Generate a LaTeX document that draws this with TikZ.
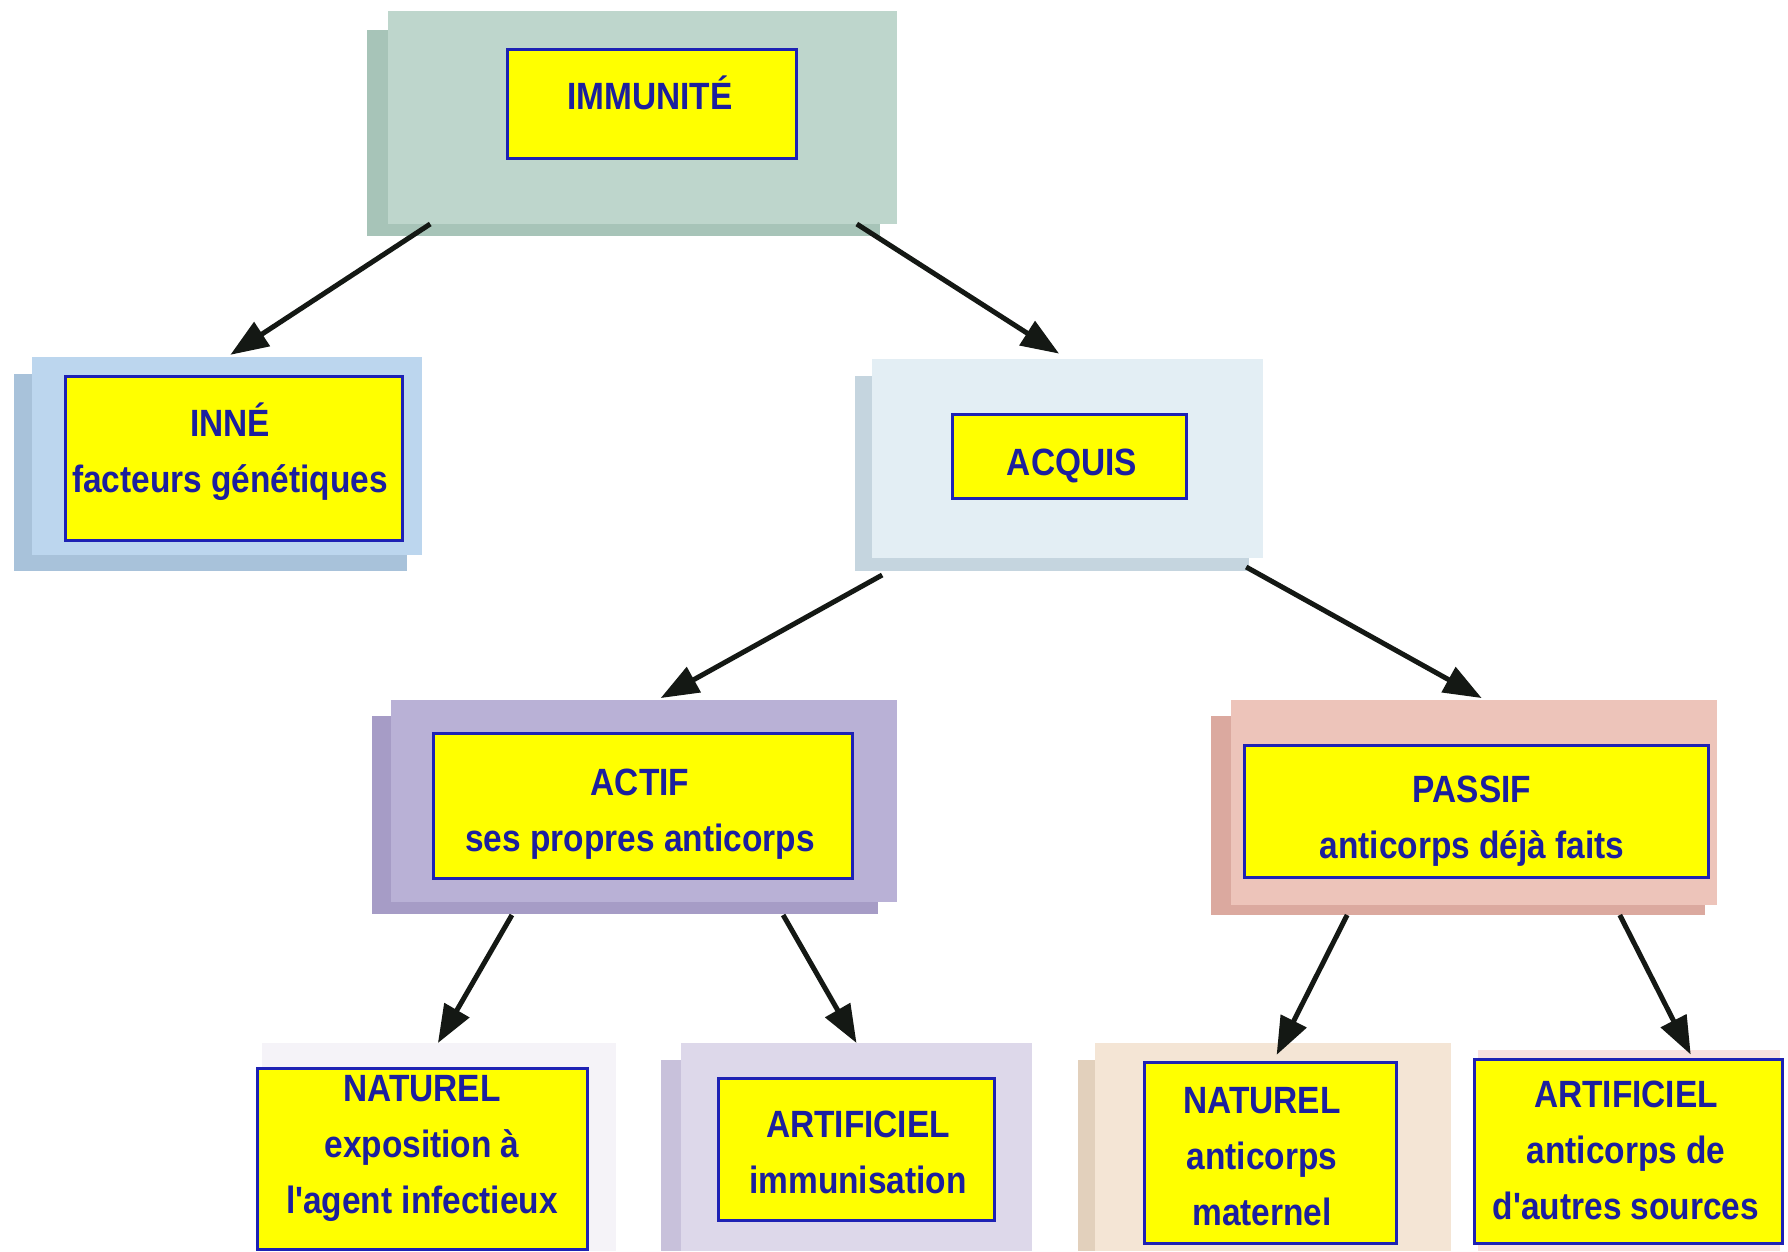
\documentclass[tikz,border=0pt]{standalone}
\usepackage{fontspec}
\newfontfamily\lab[FakeStretch=0.88]{Liberation Sans}
\usetikzlibrary{arrows.meta,calc}
\definecolor{immuF}{HTML}{BED6CC}\definecolor{immuS}{HTML}{A7C4B8}
\definecolor{inneF}{HTML}{BCD6EE}\definecolor{inneS}{HTML}{A8C2DA}
\definecolor{acqF}{HTML}{E3EEF4}\definecolor{acqS}{HTML}{C5D5DF}
\definecolor{actF}{HTML}{B9B1D6}\definecolor{actS}{HTML}{A69CC6}
\definecolor{pasF}{HTML}{EDC4BA}\definecolor{pasS}{HTML}{DBA99F}
\definecolor{nat1F}{HTML}{F5F3F8}
\definecolor{art1F}{HTML}{DDD8EA}\definecolor{art1S}{HTML}{C8C1DB}
\definecolor{nat2F}{HTML}{F4E5D5}\definecolor{nat2S}{HTML}{E2D0BC}
\definecolor{art2F}{HTML}{F8E0DF}
\definecolor{ybox}{HTML}{FFFF00}
\definecolor{yborder}{HTML}{1E22B4}
\definecolor{navy}{HTML}{1C1F9E}
\definecolor{arrowc}{HTML}{141814}
\begin{document}
\begin{tikzpicture}[x=1pt,y=-1pt,
  back/.style={draw=none,inner sep=0pt,outer sep=0pt},
  ybx/.style={draw=yborder,line width=3pt,fill=ybox,inner sep=0pt,outer sep=0pt},
  txt/.style={text=navy,align=center,inner sep=0pt,font=\lab\bfseries\fontsize{38}{56}\selectfont},
  arr/.style={draw=arrowc,line width=5pt,-{Triangle[length=38pt,width=28pt]}}]
\useasboundingbox[fill=white] (0,0) rectangle (1788,1251);

% shadows
\fill[immuS] (367,30) rectangle (880,236);
\fill[inneS] (14,374) rectangle (407,571);
\fill[acqS] (855,376) rectangle (1249,571);
\fill[actS] (372,716) rectangle (878,914);
\fill[pasS] (1211,716) rectangle (1705,915);
\fill[art1S] (661,1060) rectangle (1015,1251);
\fill[nat2S] (1078,1060) rectangle (1430,1251);

% front panels
\node[back,fill=immuF,minimum width=509pt,minimum height=213pt] (immuF) at (642.5,117.5) {};
\node[back,fill=inneF,minimum width=390pt,minimum height=198pt] (inneF) at (227,456) {};
\node[back,fill=acqF,minimum width=391pt,minimum height=199pt] (acqF) at (1067.5,458.5) {};
\node[back,fill=actF,minimum width=506pt,minimum height=202pt] (actF) at (644,801) {};
\node[back,fill=pasF,minimum width=486pt,minimum height=205pt] (pasF) at (1474,802.5) {};
\node[back,fill=nat1F,minimum width=354pt,minimum height=208pt] (nat1F) at (439,1147) {};
\node[back,fill=art1F,minimum width=351pt,minimum height=208pt] (art1F) at (856.5,1147) {};
\node[back,fill=nat2F,minimum width=356pt,minimum height=208pt] (nat2F) at (1273,1147) {};
\node[back,fill=art2F,minimum width=302pt,minimum height=201pt] (art2F) at (1629,1150.5) {};

% yellow boxes
\node[ybx,minimum width=289pt,minimum height=109pt] (immuY) at (651.5,103.5) {};
\node[ybx,minimum width=337pt,minimum height=164pt] (inneY) at (233.5,458) {};
\node[ybx,minimum width=234pt,minimum height=84pt] (acqY) at (1069,456) {};
\node[ybx,minimum width=419pt,minimum height=145pt] (actY) at (642.5,805.5) {};
\node[ybx,minimum width=464pt,minimum height=132pt] (pasY) at (1476,811) {};
\node[ybx,minimum width=330pt,minimum height=181pt] (nat1Y) at (422,1158.5) {};
\node[ybx,minimum width=276pt,minimum height=142pt] (art1Y) at (856,1149) {};
\node[ybx,minimum width=252pt,minimum height=181pt] (nat2Y) at (1270,1152.5) {};
\node[ybx,minimum width=308pt,minimum height=184pt] (art2Y) at (1628,1151) {};

% texts
\node[txt] (immuT) at (650,93) {IMMUNITÉ};
\node[txt] (inneT) at (230,452) {INNÉ\\facteurs génétiques};
\node[txt] (acqT) at (1072,466) {ACQUIS};
\node[txt] (actT) at (640,814) {ACTIF\\ses propres anticorps};
\node[txt] (pasT) at (1472,821) {PASSIF\\anticorps déjà faits};
\node[txt] (nat1T) at (422,1148) {NATUREL\\exposition à\\l'agent infectieux};
\node[txt] (art1T) at (858,1152) {ARTIFICIEL\\immunisation};
\node[txt] (nat2T) at (1262,1157) {NATUREL\\anticorps\\maternel};
\node[txt] (art2T) at (1626,1150) {ARTIFICIEL\\anticorps de\\d'autres sources};

% arrows
\draw[arr,shorten >=4pt] ($(immuF.south west)!0.083!(immuF.south east)$) -- ($(inneF.north west)!0.50!(inneF.north east)$);
\draw[arr,shorten >=10pt] ($(immuF.south west)!0.921!(immuF.south east)$) -- ($(acqF.north west)!0.50!(acqF.north east)$);
\draw[arr,shorten >=4pt] ($(acqF.south west)!0.026!(acqF.south east)+(0,17)$) -- ($(actF.north west)!0.526!(actF.north east)$);
\draw[arr,shorten >=4pt] ($(acqF.south west)!0.957!(acqF.south east)+(0,9)$) -- ($(pasF.north west)!0.523!(pasF.north east)$);
\draw[arr] ($(actF.south west)!0.239!(actF.south east)+(0,13)$) -- ($(nat1F.north west)!0.497!(nat1F.north east)$);
\draw[arr] ($(actF.south west)!0.775!(actF.south east)+(0,13)$) -- ($(art1F.north west)!0.50!(art1F.north east)$);
\draw[arr,shorten >=8pt] ($(pasF.south west)!0.239!(pasF.south east)+(0,10)$) -- ($(nat2Y.north west)!0.512!(nat2Y.north east)$);
\draw[arr,shorten >=5pt] ($(pasF.south west)!0.80!(pasF.south east)+(0,10)$) -- ($(art2Y.north west)!0.711!(art2Y.north east)$);
\end{tikzpicture}
\end{document}
